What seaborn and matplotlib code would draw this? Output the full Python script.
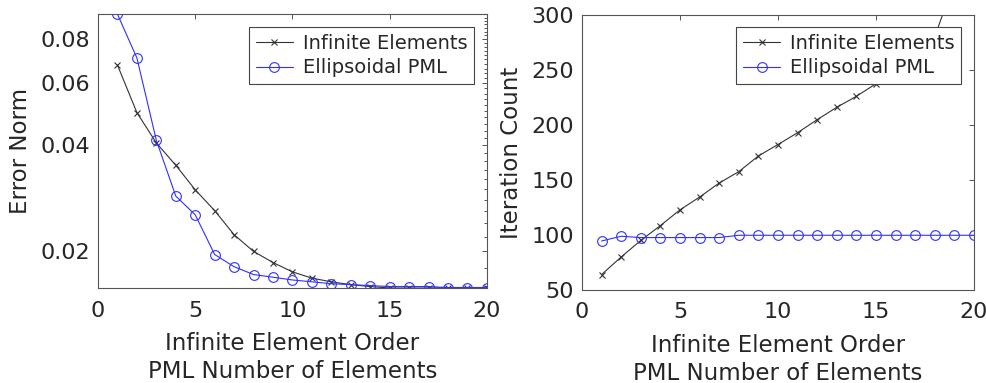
import matplotlib
matplotlib.use("Agg")
import matplotlib.pyplot as plt
import matplotlib.ticker as mticker
import numpy as np
import pandas as pd
import seaborn as sns

# ---- data ----
orders = list(range(1, 21))
err_ie = [0.0675, 0.0495, 0.0406, 0.0351, 0.0299, 0.0261, 0.0223, 0.0200, 0.0186, 0.0175,
          0.0168, 0.0164, 0.0161, 0.0159, 0.01575, 0.01575, 0.01575, 0.0158, 0.0158, 0.0158]
err_pml = [0.0941, 0.0707, 0.0413, 0.0287, 0.0254, 0.0196, 0.0181, 0.0172, 0.0169, 0.0166,
           0.0164, 0.0162, 0.0161, 0.0160, 0.0159, 0.0159, 0.0159, 0.0158, 0.0158, 0.0158]
it_ie = [64, 80, 95, 108.5, 122.8, 134.4, 147.2, 157.5, 171.8, 182.2,
         192.9, 204.8, 216, 226, 237.4, 250, 264, 280, 330, 370]
it_pml = [94.5, 98.8, 97.6, 97.6, 97.6, 97.6, 97.6, 99.7, 99.7, 99.7,
          99.7, 99.7, 99.7, 99.7, 99.7, 99.7, 99.7, 99.7, 99.7, 99.7]
series_names = ["Infinite Elements", "Ellipsoidal PML"]
x_ticks = [0, 5, 10, 15, 20]
err_ticks = [0.02, 0.04, 0.06, 0.08]
err_tick_labels = ["0.02", "0.04", "0.06", "0.08"]
it_ticks = [50, 100, 150, 200, 250, 300]
xlabel = "Infinite Element Order\nPML Number of Elements"

sns.set_theme(style="white")
plt.rcParams['font.family'] = ['DejaVu Sans']
txt = '#262626'
spine_c = '#555555'

fig = plt.figure(figsize=(9.87, 3.83), dpi=100)
ax1 = fig.add_axes([0.0993, 0.248, 0.394, 0.715])
ax2 = fig.add_axes([0.5897, 0.243, 0.397, 0.718])

c_ie = '#333333'
c_pml = '#3030ff'

def draw(ax, y_ie, y_pml):
    sns.lineplot(x=orders, y=y_ie, ax=ax, color=c_ie, lw=0.8, marker='x',
                 markersize=4, markeredgewidth=0.8, markeredgecolor=c_ie,
                 label=series_names[0], zorder=2)
    sns.lineplot(x=orders, y=y_pml, ax=ax, color=c_pml, lw=0.8, marker='o',
                 markersize=7, markerfacecolor='none', markeredgewidth=0.8,
                 markeredgecolor=c_pml, label=series_names[1], zorder=2.1)

draw(ax1, err_ie, err_pml)
draw(ax2, it_ie, it_pml)

# left axes: log scale
ax1.set_yscale('log')
ax1.set_ylim(min(min(err_ie), min(err_pml)), max(max(err_ie), max(err_pml)))
ax1.yaxis.set_major_locator(mticker.FixedLocator(err_ticks))
ax1.yaxis.set_major_formatter(mticker.FixedFormatter(err_tick_labels))
minor = [v / 1000 for v in range(16, 96, 2) if v % 20 != 0]
ax1.yaxis.set_minor_locator(mticker.FixedLocator(minor))
ax1.yaxis.set_minor_formatter(mticker.NullFormatter())
ax1.set_ylabel("Error Norm", fontsize=16.5, color=txt, labelpad=6)

ax2.set_ylim(50, 300)
ax2.set_yticks(it_ticks)
ax2.set_ylabel("Iteration Count", fontsize=16.5, color=txt, labelpad=6)

for ax, anchor in ((ax1, (0.967, 0.954)), (ax2, (0.968, 0.957))):
    ax.set_xlim(0, 20)
    ax.set_xticks(x_ticks)
    ax.set_xlabel(xlabel, fontsize=16.5, color=txt, linespacing=1.3, labelpad=8)
    ax.tick_params(which='both', direction='in', top=True, right=True,
                   colors=spine_c, labelcolor=txt, labelsize=16, width=0.7)
    ax.tick_params(which='major', length=3.5)
    ax.tick_params(which='minor', length=2)
    ax.tick_params(axis='x', pad=9)
    ax.tick_params(axis='y', pad=6)
    for s in ax.spines.values():
        s.set_visible(True)
        s.set_color(spine_c)
        s.set_linewidth(0.8)
    leg = ax.legend(loc='upper right', bbox_to_anchor=anchor, borderaxespad=0,
                    fontsize=14, handlelength=1.9, handletextpad=0.5,
                    borderpad=0.35, labelspacing=0.3, fancybox=False,
                    frameon=True, framealpha=1, facecolor='white',
                    edgecolor='#444444')
    leg.set_zorder(10)
    leg.get_frame().set_linewidth(0.8)
    for t in leg.get_texts():
        t.set_color(txt)

fig.savefig("out.png", dpi=100)
